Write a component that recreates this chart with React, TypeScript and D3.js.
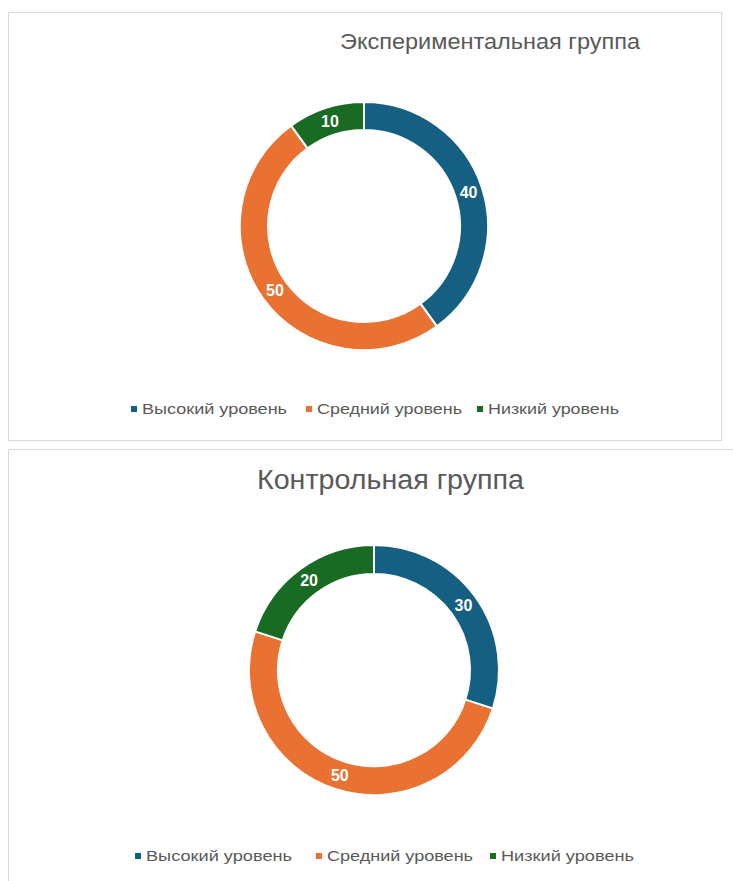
import { useEffect, useRef } from 'react'
import * as d3 from 'd3'

const categories = ['Высокий уровень', 'Средний уровень', 'Низкий уровень']
const colors = ['#156082', '#E97132', '#196B24']
const experimentalValues = [40, 50, 10]
const controlValues = [30, 50, 20]
const titles = ['Экспериментальная группа', 'Контрольная группа']

interface ChartSpec {
  title: string
  values: number[]
  cx: number
  cy: number
  outer: number
  inner: number
  titleX: number
  titleY: number
  titleSize: number
  titleWidth: number
  legendX: number[]
  legendWidth: number[]
  legendY: number
}

const charts: ChartSpec[] = [
  {
    title: titles[0], values: experimentalValues, cx: 364, cy: 226, outer: 124, inner: 96,
    titleX: 490, titleY: 49, titleSize: 22, titleWidth: 300,
    legendX: [131, 306, 477], legendWidth: [145, 145, 131], legendY: 414,
  },
  {
    title: titles[1], values: controlValues, cx: 374, cy: 670, outer: 125, inner: 96,
    titleX: 390.5, titleY: 489, titleSize: 27, titleWidth: 267,
    legendX: [135, 316, 490], legendWidth: [146, 146, 133], legendY: 861,
  },
]

export default function App() {
  const svgRef = useRef<SVGSVGElement>(null)

  useEffect(() => {
    if (!svgRef.current) return
    const svg = d3.select(svgRef.current)
    svg.selectAll('*').remove()

    // frames
    svg.append('rect')
      .attr('x', 8.5).attr('y', 12.5).attr('width', 713).attr('height', 428)
      .attr('fill', 'none').attr('stroke', '#d9d9d9')
    svg.append('path')
      .attr('d', 'M8.5,881 L8.5,449.5 L733,449.5')
      .attr('fill', 'none').attr('stroke', '#d9d9d9')

    const pie = d3.pie<number>().sort(null).value(d => d)

    charts.forEach(c => {
      const g = svg.append('g').attr('transform', `translate(${c.cx},${c.cy})`)
      const arc = d3.arc<d3.PieArcDatum<number>>().innerRadius(c.inner).outerRadius(c.outer)
      const labelArc = d3.arc<d3.PieArcDatum<number>>()
        .innerRadius((c.inner + c.outer) / 2).outerRadius((c.inner + c.outer) / 2)
      const arcs = pie(c.values)

      g.selectAll('path')
        .data(arcs)
        .enter()
        .append('path')
        .attr('d', arc)
        .attr('fill', (_, i) => colors[i])
        .attr('stroke', '#ffffff')
        .attr('stroke-width', 2)

      g.selectAll('text')
        .data(arcs)
        .enter()
        .append('text')
        .attr('transform', d => `translate(${labelArc.centroid(d)})`)
        .attr('text-anchor', 'middle')
        .attr('dy', '0.35em')
        .attr('fill', '#ffffff')
        .attr('font-weight', 'bold')
        .attr('font-size', 16)
        .text(d => d.data)

      svg.append('text')
        .attr('x', c.titleX).attr('y', c.titleY)
        .attr('text-anchor', 'middle')
        .attr('fill', '#595959')
        .attr('font-size', c.titleSize)
        .attr('textLength', c.titleWidth)
        .attr('lengthAdjust', 'spacingAndGlyphs')
        .text(c.title)

      categories.forEach((name, i) => {
        svg.append('rect')
          .attr('x', c.legendX[i]).attr('y', c.legendY - 8)
          .attr('width', 6).attr('height', 6)
          .attr('fill', colors[i])
        svg.append('text')
          .attr('x', c.legendX[i] + 11).attr('y', c.legendY)
          .attr('fill', '#595959')
          .attr('font-size', 15)
          .attr('textLength', c.legendWidth[i])
          .attr('lengthAdjust', 'spacingAndGlyphs')
          .text(name)
      })
    })
  }, [])

  return (
    <svg
      ref={svgRef}
      width={733}
      height={881}
      style={{ position: 'absolute', left: 0, top: 0, fontFamily: '"Liberation Sans", Arial, sans-serif', background: '#fff' }}
    />
  )
}
